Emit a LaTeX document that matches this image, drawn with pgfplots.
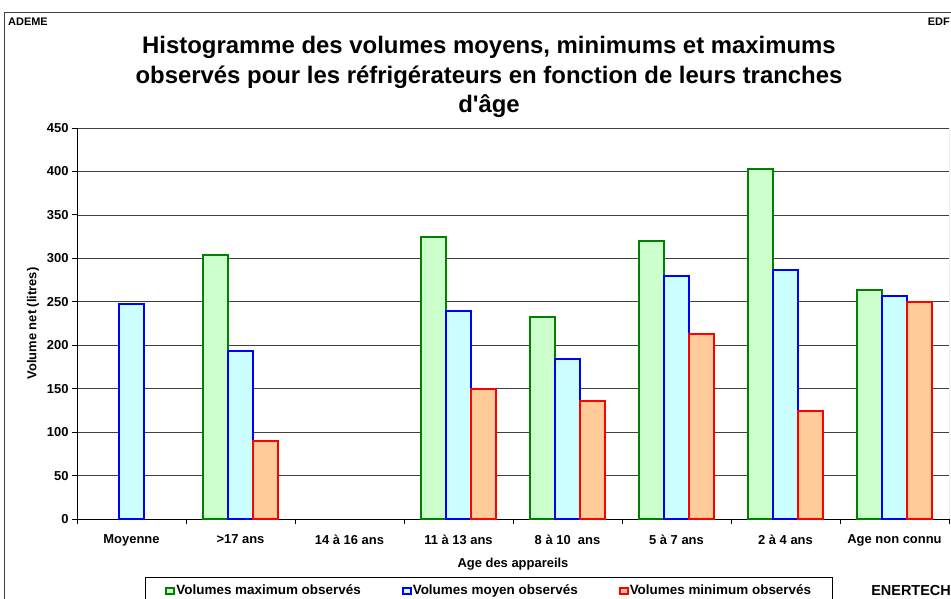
\documentclass[border=0pt]{standalone}
\usepackage{pgfplots}
\pgfplotsset{compat=1.18}
\usepackage{fontspec}
\setmainfont{Liberation Sans}[Ligatures=TeXOff]
\definecolor{gfill}{HTML}{CCFFCC}
\definecolor{gdraw}{HTML}{008000}
\definecolor{bfill}{HTML}{CCFFFF}
\definecolor{bdraw}{HTML}{0000FF}
\definecolor{rfill}{HTML}{FFCC99}
\definecolor{rdraw}{HTML}{FF0000}
\pgfplotsset{leg/.style={legend image code/.code={\draw[##1,/tikz/.cd,line width=2bp] (1bp,-3.5bp) rectangle (9bp,2.5bp);}}}
\begin{document}
\begin{tikzpicture}
\path[use as bounding box] (0,0) rectangle (951bp,-599bp);
\draw[black!75, line width=1bp] (4bp,-599bp) -- (4bp,-12bp) -- (951bp,-12bp);
\node[anchor=west, inner sep=0pt, font=\bfseries\fontsize{11}{13}\selectfont] at (8bp,-22bp) {ADEME};
\node[anchor=east, inner sep=0pt, font=\bfseries\fontsize{11}{13}\selectfont] at (950bp,-22bp) {EDF};
\node[align=center, inner sep=0pt, font=\bfseries\fontsize{24}{29.5}\selectfont] at (489bp,-77bp) {Histogramme des volumes moyens, minimums et maximums\\observés pour les réfrigérateurs en fonction de leurs tranches\\d'âge};
\node[anchor=base east, inner sep=0pt, font=\bfseries\fontsize{14.5}{17}\selectfont] at (951bp,-595bp) {ENERTECH};
\begin{axis}[
  at={(77bp,-519bp)}, anchor=south west, scale only axis,
  width=872bp, height=391bp,
  ymin=0, ymax=450, ytick={0,50,...,450},
  xmin=-0.5, xmax=7.5, xtick={0,...,7},
  xticklabels={Moyenne,{>17 ans},{14 à 16 ans},{11 à 13 ans},{8 à 10\ \ ans},{5 à 7 ans},{2 à 4 ans},{Age non connu}},
  minor xtick={-0.5,0.5,...,7.5},
  axis x line*=bottom, axis y line*=left,
  axis line style={-, line width=0.8bp, black},
  tick align=outside, xtick align=outside, ytick align=outside,
  major tick length=5bp, minor tick length=5bp,
  major x tick style={draw=none},
  tick style={black, line width=0.8bp},
  ymajorgrids, grid style={black!75, line width=0.6bp},
  tick label style={font=\bfseries\fontsize{13}{15}\selectfont, /pgf/number format/assume math mode=true},
  xticklabel style={yshift=-7bp},
  xlabel={Age des appareils}, ylabel={Volume net (litres)},
  label style={font=\bfseries\fontsize{13}{15}\selectfont},
  xlabel style={at={(axis description cs:0.5,-0.1165)}, anchor=center},
  ylabel style={at={(axis description cs:-0.0505,0.5)}, anchor=center},
  ybar=0pt, bar width=25bp,
  legend columns=3,
  legend style={at={(axis description cs:0.078,-0.1483)}, anchor=north west,
    draw=black, line width=0.8bp, font=\bfseries\fontsize{13.5}{16}\selectfont,
    inner xsep=20bp, inner ysep=5bp,
    nodes={inner xsep=1bp},
    /tikz/every even column/.append style={column sep=40bp}},
]
\addplot[leg, fill=gfill, draw=gdraw, line width=2bp] coordinates {(1,304) (3,325) (4,232) (5,320) (6,403) (7,264)};
\addplot[leg, fill=bfill, draw=bdraw, line width=2bp] coordinates {(0,247) (1,193) (3,239) (4,184) (5,280) (6,287) (7,257)};
\addplot[leg, fill=rfill, draw=rdraw, line width=2bp] coordinates {(1,90) (3,150) (4,136) (5,213) (6,124) (7,250)};
\legend{Volumes maximum observés, Volumes moyen observés, Volumes minimum observés}
\draw[black!60, line width=1bp] (rel axis cs:1,0) -- (rel axis cs:1,1);
\end{axis}
\end{tikzpicture}
\end{document}
